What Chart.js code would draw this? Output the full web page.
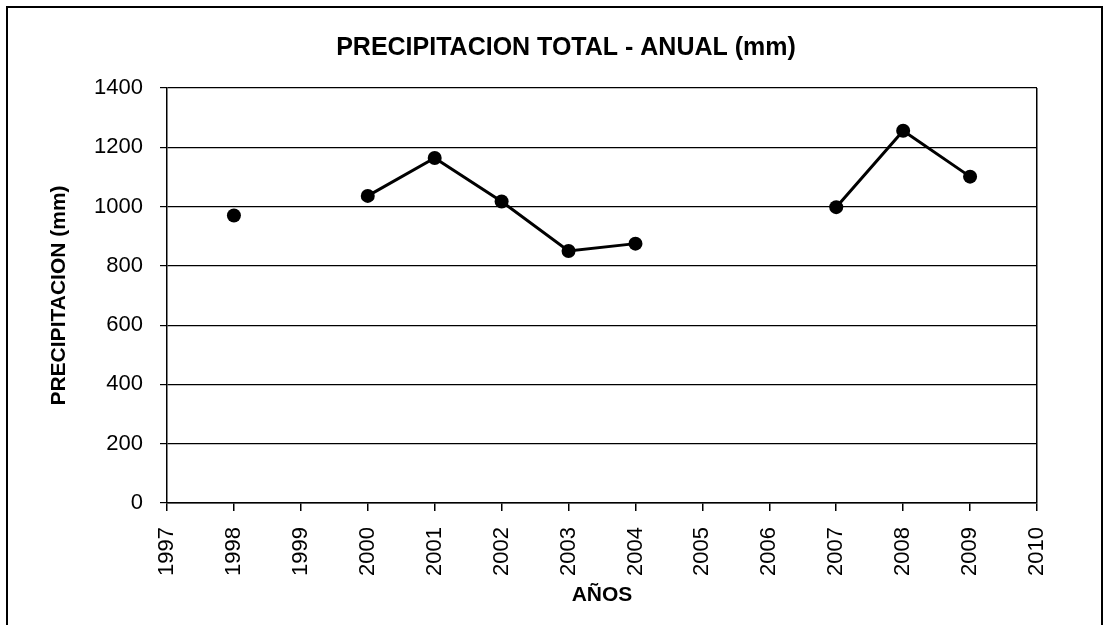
<!DOCTYPE html>
<html>
<head>
<meta charset="utf-8">
<script src="https://cdn.jsdelivr.net/npm/chart.js@4"></script>
<style>
  html, body { margin: 0; padding: 0; background: #fff; overflow: hidden; }
  #wrap { position: absolute; left: 0; top: 0; width: 1105px; height: 625px; }
  #frame { position: absolute; left: 6px; top: 6px; width: 1093px; height: 640px; border: 2px solid #000; pointer-events: none; }
</style>
</head>
<body>
<div id="wrap"><canvas id="lineChart" width="1105" height="625"></canvas></div>
<div id="frame"></div>
<script>
// Years on the x axis (1997 and 2010 only bound the axis)
const years = ['1997', '1998', '1999', '2000', '2001', '2002', '2003', '2004', '2005', '2006', '2007', '2008', '2009', '2010'];
// Annual total rainfall (mm), null = no data
const precipitacion = [null, 970, null, 1036, 1164, 1017, 850, 875, null, null, 998, 1256, 1101, null];
const yTicks = [0, 200, 400, 600, 800, 1000, 1200, 1400];

const FONT = 'Liberation Sans, Arial, sans-serif';

new Chart(document.getElementById('lineChart'), {
  type: 'line',
  data: {
    labels: years,
    datasets: [{
      label: 'Precipitacion',
      data: precipitacion,
      borderColor: '#000',
      backgroundColor: '#000',
      borderWidth: 3,
      pointRadius: 7,
      pointBackgroundColor: '#000',
      pointBorderWidth: 0,
      spanGaps: false,
      tension: 0
    }]
  },
  options: {
    responsive: false,
    animation: false,
    // left padding shifts the centred title to where the original has it
    layout: { padding: { left: 95, right: 68, top: 0, bottom: 0 } },
    scales: {
      x: {
        offset: false,
        afterFit: (scale) => { scale.height = 122; },
        grid: {
          color: (ctx) => (ctx.index === years.length - 1 ? '#000' : 'rgba(0,0,0,0)'),
          tickColor: '#000',
          tickLength: 8,
          lineWidth: 1.5
        },
        border: { color: '#000', width: 1.5 },
        ticks: {
          color: '#000',
          minRotation: 90,
          maxRotation: 90,
          padding: 16,
          font: { family: FONT, size: 22 }
        },
        title: {
          display: true,
          text: 'AÑOS',
          color: '#000',
          padding: { top: 0, bottom: 17 },
          font: { family: FONT, size: 21, weight: 'bold' }
        }
      },
      y: {
        min: 0,
        max: 1400,
        afterFit: (scale) => { scale.width = 72; },
        afterBuildTicks: (scale) => { scale.ticks = yTicks.map(v => ({ value: v })); },
        grid: { color: '#000', lineWidth: 1.2, tickLength: 7 },
        border: { color: '#000', width: 1.5 },
        ticks: {
          color: '#000',
          padding: 17,
          font: { family: FONT, size: 22 },
          callback: (value) => String(value)
        },
        title: {
          display: true,
          text: 'PRECIPITACION (mm)',
          color: '#000',
          padding: { top: -48, bottom: 0 },
          font: { family: FONT, size: 21, weight: 'bold' }
        }
      }
    },
    plugins: {
      legend: { display: false },
      tooltip: { enabled: false },
      title: {
        display: true,
        text: 'PRECIPITACION TOTAL - ANUAL (mm)',
        color: '#000',
        padding: { top: 33, bottom: 25 },
        font: { family: FONT, size: 25, weight: 'bold' }
      }
    }
  }
});
</script>
</body>
</html>
